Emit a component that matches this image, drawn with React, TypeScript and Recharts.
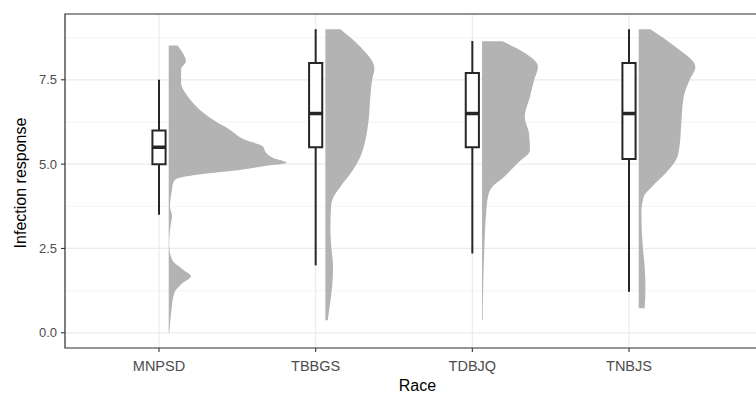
import { ComposedChart, Area, XAxis, YAxis, CartesianGrid, ReferenceArea, ReferenceLine } from "recharts";

const FONT = "'Liberation Sans', Arial, sans-serif";

const races = ["MNPSD", "TBBGS", "TDBJQ", "TNBJS"];
const racePositions = [1, 2, 3, 4];

// boxplot summary per race
const whiskerLow = [3.5, 2.0, 2.35, 1.22];
const lowerQuartile = [5.0, 5.5, 5.5, 5.15];
const medians = [5.5, 6.5, 6.5, 6.5];
const upperQuartile = [6.0, 8.0, 7.7, 8.0];
const whiskerHigh = [7.5, 9.0, 8.65, 9.0];

// half-violin densities (response value -> width in category units)
const mnpsdY = [8.52, 8.3, 8.05, 7.81, 7.41, 7.01, 6.62, 6.32, 6.03, 5.73, 5.53, 5.34, 5.19, 5.04, 4.94, 4.84, 4.69, 4.55, 4.4, 4.25, 3.75, 3.46, 3.06, 2.57, 2.17, 1.88, 1.68, 1.48, 1.19, 0.59, 0.0];
const mnpsdDensity = [0.057, 0.089, 0.11, 0.079, 0.079, 0.121, 0.196, 0.281, 0.387, 0.483, 0.6, 0.621, 0.664, 0.753, 0.606, 0.472, 0.191, 0.045, 0.026, 0.021, 0.008, 0.021, 0.008, 0.003, 0.021, 0.089, 0.142, 0.089, 0.036, 0.015, 0.004];

const tbbgsY = [9.0, 8.48, 7.84, 7.49, 7.0, 6.3, 5.71, 5.22, 4.72, 4.33, 4.03, 3.74, 3.04, 2.55, 1.96, 1.36, 0.77, 0.37];
const tbbgsDensity = [0.096, 0.223, 0.313, 0.298, 0.287, 0.276, 0.255, 0.223, 0.16, 0.096, 0.053, 0.036, 0.032, 0.038, 0.049, 0.043, 0.027, 0.015];

const tdbjqY = [8.64, 8.28, 7.89, 7.49, 7.0, 6.4, 5.91, 5.41, 5.02, 4.62, 4.33, 4.03, 3.54, 2.55, 1.56, 0.37];
const tdbjqDensity = [0.13, 0.279, 0.357, 0.332, 0.306, 0.273, 0.3, 0.306, 0.225, 0.14, 0.066, 0.038, 0.026, 0.015, 0.008, 0.004];

const tnbjsY = [9.0, 8.48, 7.89, 7.49, 7.0, 6.3, 5.51, 5.12, 4.72, 4.33, 4.03, 3.54, 2.55, 1.96, 1.36, 0.73];
const tnbjsDensity = [0.075, 0.234, 0.362, 0.324, 0.287, 0.273, 0.26, 0.238, 0.17, 0.085, 0.032, 0.017, 0.026, 0.038, 0.043, 0.038];

const violinY = [mnpsdY, tbbgsY, tdbjqY, tnbjsY];
const violinDensity = [mnpsdDensity, tbbgsDensity, tdbjqDensity, tnbjsDensity];

const yTicks = [0, 1.25, 2.5, 3.75, 5, 6.25, 7.5, 8.75];
const yMajorTicks = [0, 2.5, 5, 7.5];

const VIOLIN_NUDGE = 0.062;
const BOX_HALF = 0.042;

const YTick = (props: any) => {
  const { x, y, payload } = props;
  if (!yMajorTicks.includes(payload.value)) return null;
  return (
    <g>
      <line x1={x + 4} x2={x + 8} y1={y} y2={y} stroke="#333333" strokeWidth={1.1} />
      <text x={x} y={y} dy="0.35em" textAnchor="end" fill="#4D4D4D" fontSize={13} fontFamily={FONT}>
        {payload.value.toFixed(1)}
      </text>
    </g>
  );
};

const gridLine = (p: any) => {
  const major = p.index % 2 === 0;
  return (
    <line
      key={p.key}
      x1={p.x1}
      x2={p.x2}
      y1={p.y1}
      y2={p.y2}
      stroke={major ? "#EBEBEB" : "#F3F3F3"}
      strokeWidth={major ? 1.2 : 0.9}
    />
  );
};

export default function App() {
  return (
    <div style={{ position: "fixed", left: 0, top: 0, width: 756, height: 394, overflow: "hidden", background: "#fff" }}>
      <ComposedChart width={780} height={394} layout="vertical" margin={{ top: 14, right: 10, bottom: 0, left: 0 }}>
        <CartesianGrid horizontal={gridLine} stroke="#EBEBEB" strokeWidth={1.2} />
        <XAxis
          type="number"
          domain={[0.4, 4.9]}
          allowDataOverflow
          ticks={racePositions}
          tickFormatter={(v: number) => races[v - 1]}
          height={46}
          axisLine={false}
          tickSize={4}
          tickMargin={9}
          tickLine={{ stroke: "#333333", strokeWidth: 1.1 }}
          tick={{ fill: "#4D4D4D", fontSize: 14.5, fontFamily: FONT }}
          label={{ value: "Race", position: "insideBottom", offset: 3, fill: "#000", fontSize: 16, fontFamily: FONT }}
        />
        <YAxis
          type="number"
          dataKey="y"
          domain={[-0.45, 9.45]}
          allowDataOverflow
          reversed
          ticks={yTicks}
          width={65}
          axisLine={false}
          tickLine={false}
          tickSize={0}
          tickMargin={8}
          tick={<YTick />}
          label={{
            content: (p: any) => {
              const vb = p.viewBox;
              const cy = vb.y + vb.height / 2 + 2;
              return (
                <text x={20} y={cy} transform={`rotate(-90 20 ${cy})`} textAnchor="middle" dominantBaseline="central" fill="#000" fontSize={16} fontFamily={FONT}>
                  Infection response
                </text>
              );
            },
          }}
        />
        {races.map((race, i) => {
          const base = racePositions[i] + VIOLIN_NUDGE;
          const data = violinY[i].map((y, j) => ({ y, range: [base, base + violinDensity[i][j]] }));
          return (
            <Area
              key={race}
              data={data}
              dataKey="range"
              type="monotone"
              stroke="none"
              fill="#B3B3B3"
              fillOpacity={1}
              isAnimationActive={false}
            />
          );
        })}
        {races.map((race, i) => {
          const pos = racePositions[i];
          return [
            <ReferenceLine key={race + "-lw"} segment={[{ x: pos, y: whiskerLow[i] }, { x: pos, y: lowerQuartile[i] }]} stroke="#262626" strokeWidth={2} />,
            <ReferenceLine key={race + "-hw"} segment={[{ x: pos, y: upperQuartile[i] }, { x: pos, y: whiskerHigh[i] }]} stroke="#262626" strokeWidth={2} />,
            <ReferenceArea key={race + "-box"} x1={pos - BOX_HALF} x2={pos + BOX_HALF} y1={lowerQuartile[i]} y2={upperQuartile[i]} fill="#FFFFFF" fillOpacity={1} stroke="#262626" strokeWidth={2} />,
            <ReferenceLine key={race + "-med"} segment={[{ x: pos - BOX_HALF, y: medians[i] }, { x: pos + BOX_HALF, y: medians[i] }]} stroke="#262626" strokeWidth={3.5} />,
          ];
        })}
        <ReferenceArea x1={0.4} x2={4.9} y1={-0.45} y2={9.45} fill="none" stroke="#333333" strokeWidth={1.2} />
      </ComposedChart>
    </div>
  );
}
